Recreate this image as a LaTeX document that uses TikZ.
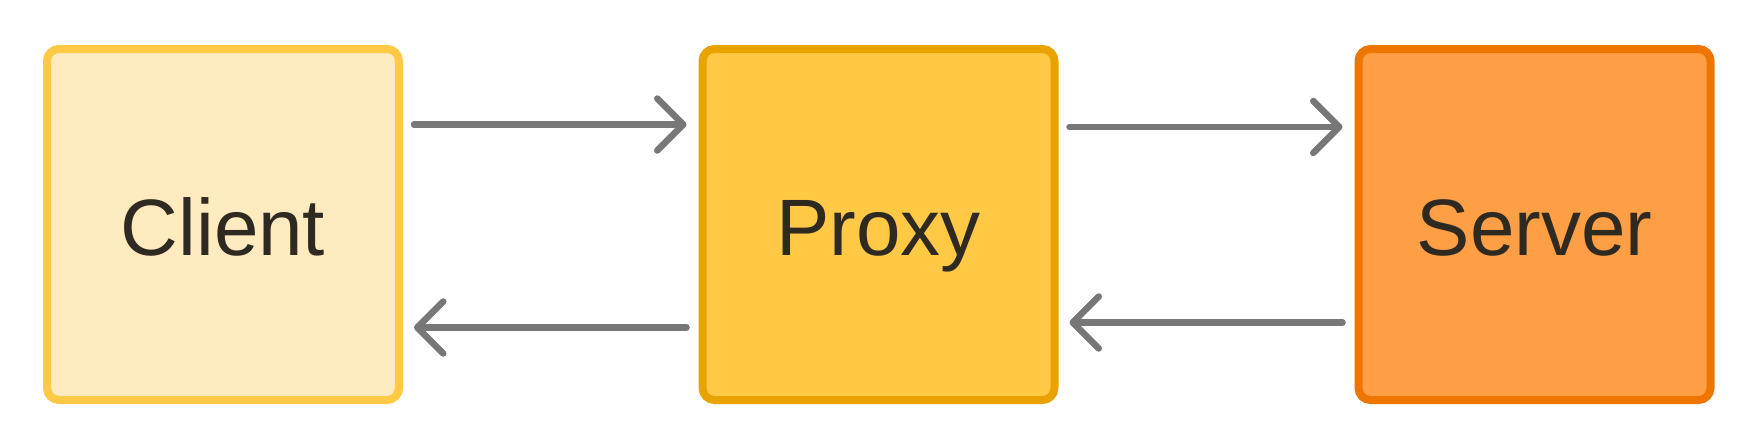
\documentclass[tikz,border=0pt]{standalone}
\usepackage{fontspec}
\setmainfont{Liberation Sans}
\usetikzlibrary{arrows.meta}
\definecolor{clientfill}{HTML}{FFEBBF}
\definecolor{clientdraw}{HTML}{FFC845}
\definecolor{proxyfill}{HTML}{FFC845}
\definecolor{proxydraw}{HTML}{E9A300}
\definecolor{serverfill}{HTML}{FF9F45}
\definecolor{serverdraw}{HTML}{EE7500}
\definecolor{txt}{HTML}{2E2A22}
\definecolor{arrgray}{HTML}{777777}
\tikzset{
  boxnode/.style={rectangle, rounded corners=12pt, line width=8pt,
    minimum width=352pt, minimum height=351pt, inner sep=0pt,
    text=txt, font=\fontsize{80}{84}\selectfont,
    text height=61pt, text depth=0pt},
  arr/.style={draw=arrgray, line width=6.5pt, line cap=round,
    -{Straight Barb[length=26pt, width=52pt, line cap=round, line join=round]}}
}
\begin{document}
\begin{tikzpicture}[x=1pt, y=-1pt]
\useasboundingbox (0,0) rectangle (1759,447);
\node[boxnode, fill=clientfill, draw=clientdraw] (client) at (223,224.5) {Client};
\node[boxnode, fill=proxyfill, draw=proxydraw] (proxy) at (878.5,224.5) {Proxy};
\node[boxnode, fill=serverfill, draw=serverdraw] (server) at (1534.5,224.5) {Server};
\draw[arr] ([xshift=11pt,yshift=100pt]client.east) -- ([xshift=-12pt,yshift=100pt]proxy.west);
\draw[arr] ([xshift=11pt,yshift=97.5pt]proxy.east) -- ([xshift=-12pt,yshift=97.5pt]server.west);
\draw[arr] ([xshift=-12pt,yshift=-103pt]proxy.west) -- ([xshift=11pt,yshift=-103pt]client.east);
\draw[arr] ([xshift=-12pt,yshift=-98pt]server.west) -- ([xshift=11pt,yshift=-98pt]proxy.east);
\end{tikzpicture}
\end{document}
